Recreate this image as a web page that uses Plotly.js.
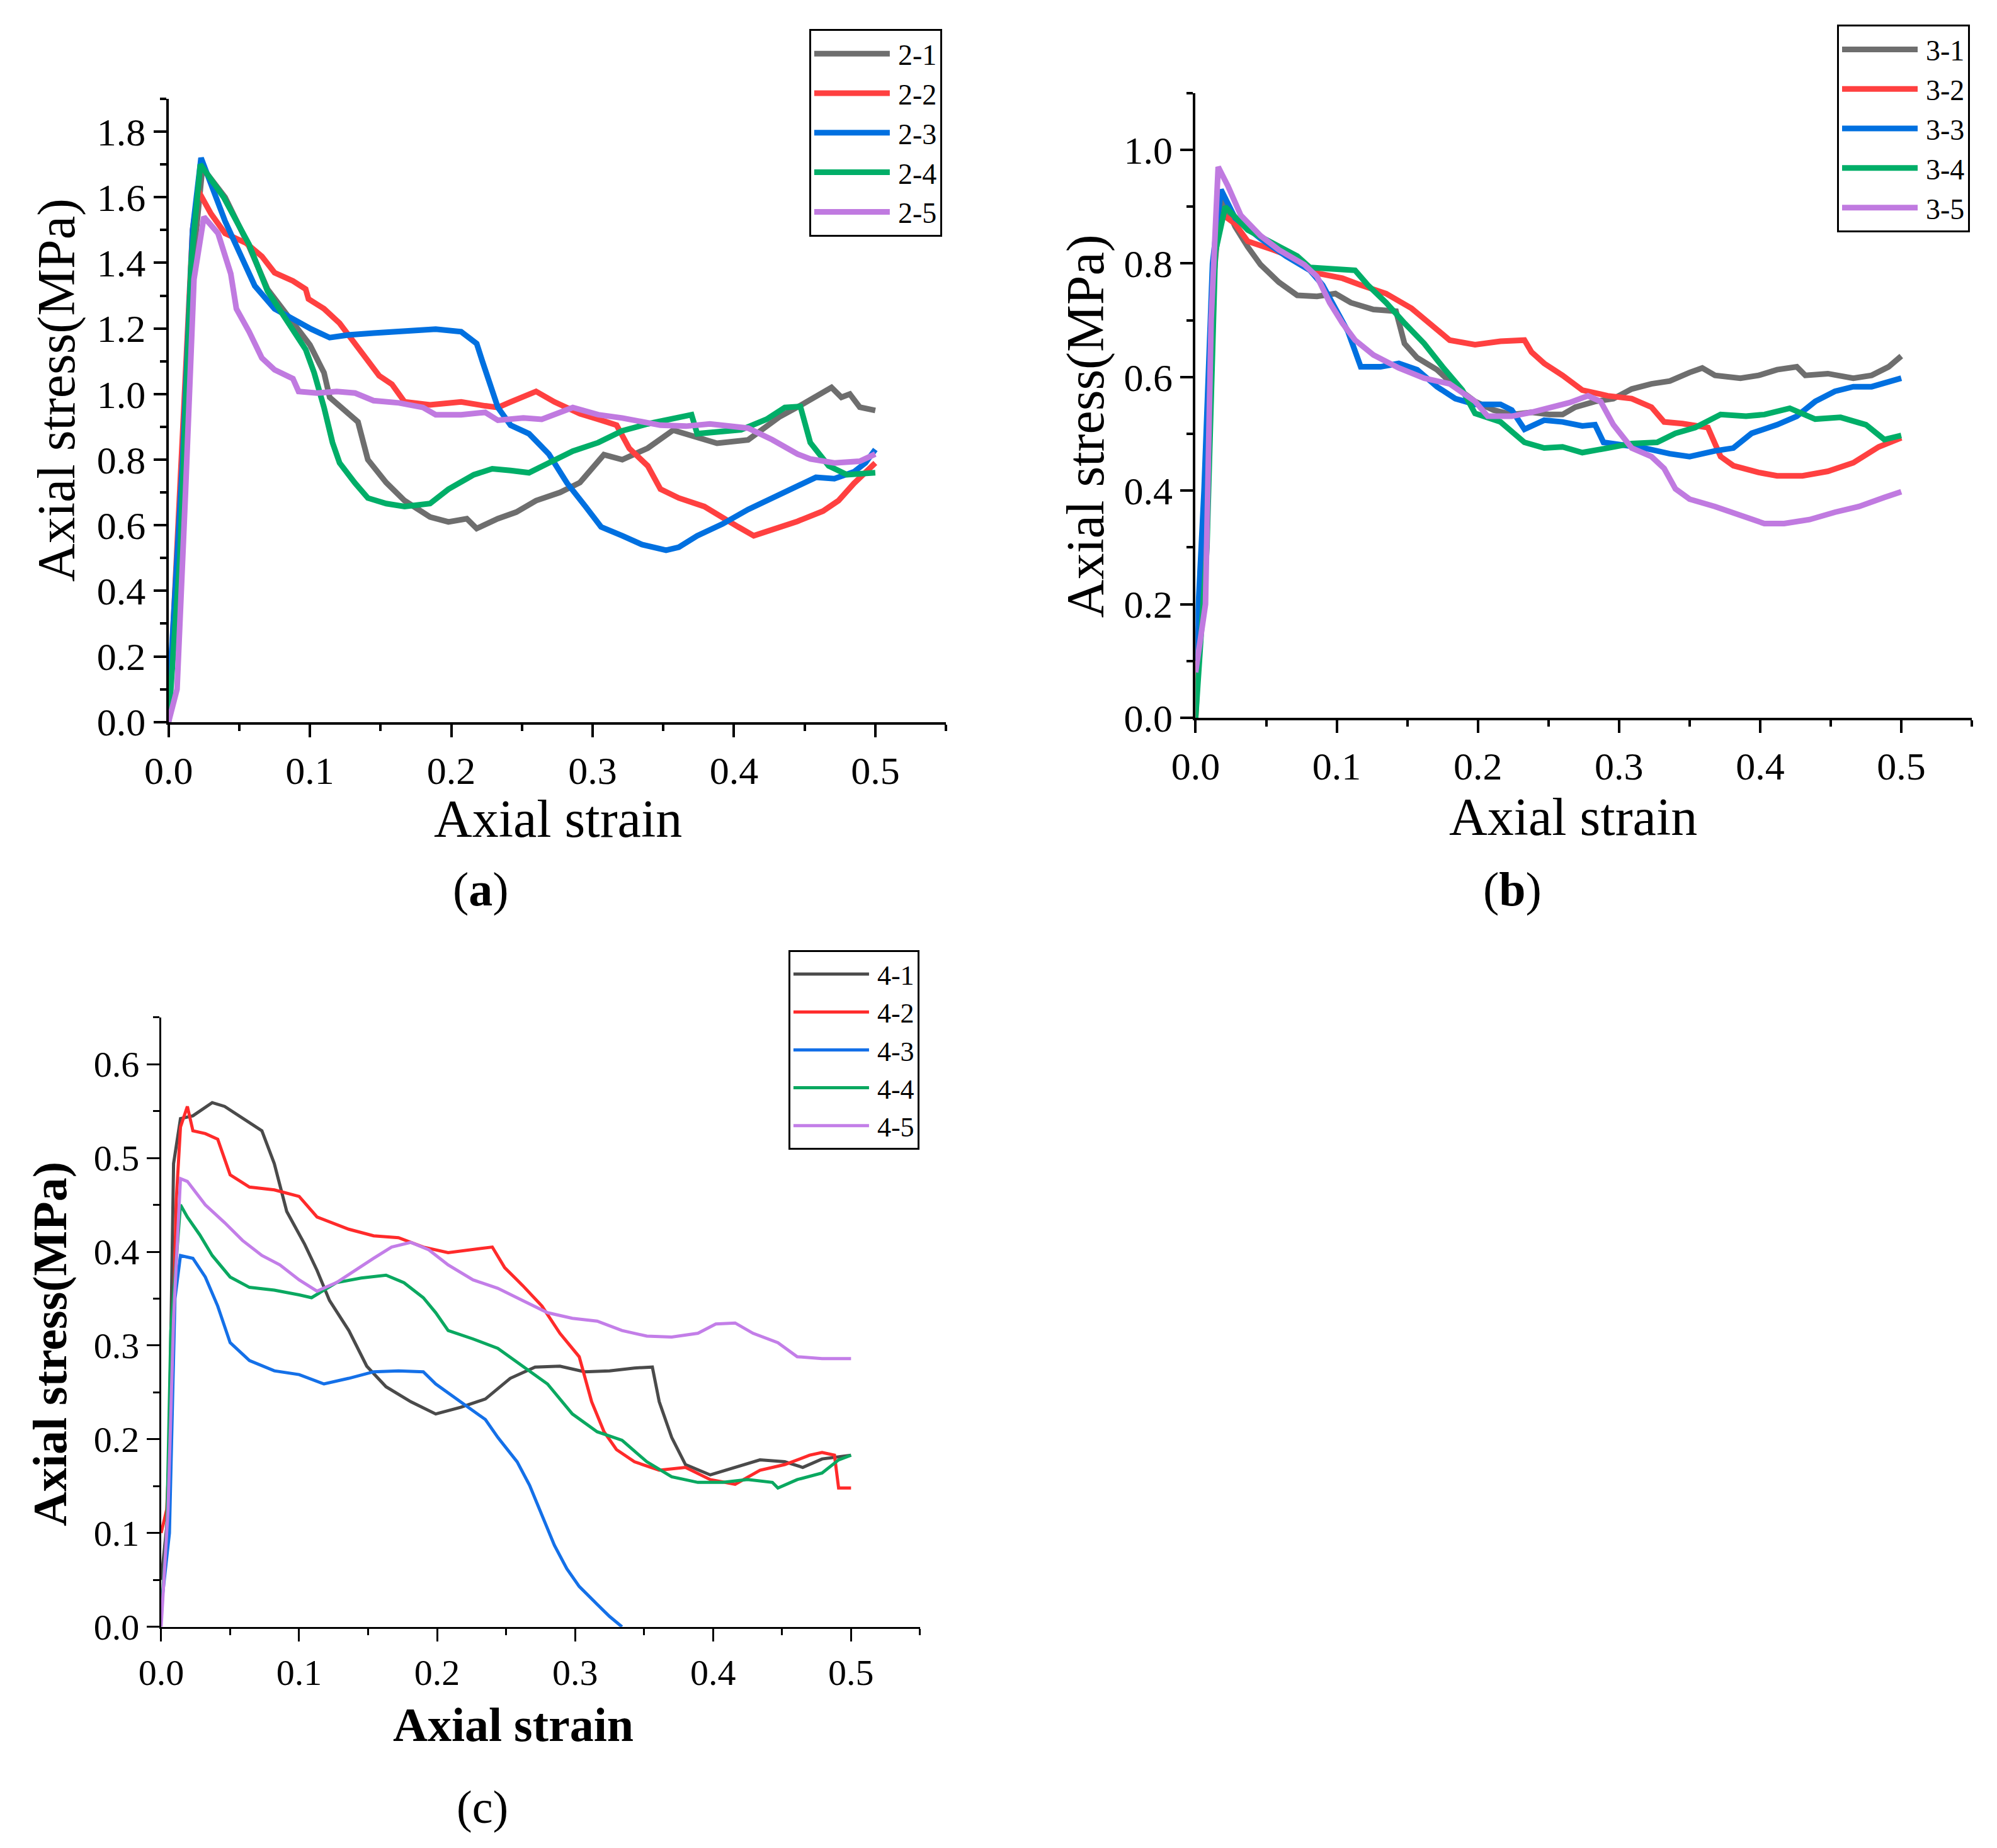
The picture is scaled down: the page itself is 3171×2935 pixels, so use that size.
<!DOCTYPE html>
<html>
<head>
<meta charset="utf-8">
<script src="https://cdn.plot.ly/plotly-3.0.1.min.js"></script>
<style>
  html, body { margin: 0; padding: 0; background: #fff; }
  #gd { width: 3171px; height: 2935px; }
</style>
</head>
<body>
<div id="gd"></div>
<script>
// ---- panel (a): specimens 2-x ----
const names2 = ['2-1', '2-2', '2-3', '2-4', '2-5'];
const x21 = [0, 0.008, 0.015, 0.024, 0.04, 0.057, 0.07, 0.088, 0.1, 0.11, 0.114, 0.134, 0.141, 0.154, 0.167, 0.185, 0.198, 0.211, 0.218, 0.233, 0.246, 0.26, 0.277, 0.291, 0.308, 0.321, 0.339, 0.357, 0.374, 0.388, 0.41, 0.432, 0.449, 0.469, 0.476, 0.482, 0.489, 0.5];
const y21 = [0, 0.6, 1.3, 1.69, 1.6, 1.45, 1.32, 1.22, 1.15, 1.065, 0.99, 0.915, 0.8, 0.73, 0.675, 0.625, 0.61, 0.62, 0.59, 0.62, 0.64, 0.675, 0.7, 0.73, 0.815, 0.8, 0.835, 0.89, 0.87, 0.85, 0.86, 0.93, 0.97, 1.02, 0.99, 1.0, 0.96, 0.95];
const x22 = [0, 0.01, 0.017, 0.021, 0.03, 0.04, 0.055, 0.066, 0.075, 0.088, 0.097, 0.099, 0.11, 0.121, 0.132, 0.141, 0.149, 0.158, 0.167, 0.185, 0.207, 0.224, 0.233, 0.242, 0.26, 0.273, 0.291, 0.304, 0.317, 0.326, 0.339, 0.348, 0.361, 0.379, 0.392, 0.403, 0.414, 0.427, 0.445, 0.463, 0.474, 0.485, 0.5];
const y22 = [0, 0.9, 1.5, 1.62, 1.55, 1.49, 1.46, 1.42, 1.37, 1.345, 1.32, 1.29, 1.26, 1.216, 1.154, 1.1, 1.056, 1.03, 0.976, 0.967, 0.976, 0.964, 0.959, 0.976, 1.008, 0.976, 0.94, 0.923, 0.905, 0.834, 0.781, 0.71, 0.683, 0.657, 0.621, 0.595, 0.568, 0.586, 0.612, 0.643, 0.675, 0.728, 0.79];
const x23 = [0, 0.01, 0.017, 0.023, 0.04, 0.052, 0.061, 0.075, 0.088, 0.101, 0.114, 0.127, 0.145, 0.172, 0.189, 0.207, 0.218, 0.222, 0.227, 0.233, 0.242, 0.255, 0.269, 0.282, 0.295, 0.306, 0.321, 0.335, 0.352, 0.361, 0.374, 0.392, 0.41, 0.427, 0.445, 0.458, 0.471, 0.485, 0.493, 0.5];
const y23 = [0.05, 0.8, 1.5, 1.72, 1.527, 1.42, 1.33, 1.26, 1.228, 1.198, 1.172, 1.18, 1.186, 1.193, 1.198, 1.19, 1.154, 1.1, 1.03, 0.959, 0.905, 0.879, 0.817, 0.728, 0.657, 0.595, 0.568, 0.541, 0.524, 0.533, 0.568, 0.604, 0.648, 0.683, 0.719, 0.746, 0.742, 0.763, 0.79, 0.831];
const x24 = [0, 0.008, 0.016, 0.0225, 0.039, 0.057, 0.07, 0.088, 0.097, 0.103, 0.11, 0.116, 0.121, 0.132, 0.141, 0.154, 0.167, 0.185, 0.198, 0.216, 0.229, 0.242, 0.255, 0.269, 0.286, 0.304, 0.321, 0.339, 0.357, 0.37, 0.374, 0.388, 0.405, 0.423, 0.436, 0.447, 0.454, 0.467, 0.48, 0.5];
const y24 = [0, 0.5, 1.4, 1.7, 1.6, 1.456, 1.314, 1.198, 1.136, 1.065, 0.959, 0.852, 0.79, 0.728, 0.683, 0.666, 0.657, 0.666, 0.71, 0.754, 0.772, 0.767, 0.76, 0.79, 0.826, 0.852, 0.888, 0.909, 0.927, 0.937, 0.879, 0.884, 0.891, 0.923, 0.959, 0.962, 0.852, 0.781, 0.754, 0.76];
const x25 = [0, 0.006, 0.012, 0.018, 0.025, 0.035, 0.044, 0.048, 0.057, 0.066, 0.075, 0.088, 0.092, 0.105, 0.119, 0.132, 0.145, 0.163, 0.18, 0.189, 0.207, 0.224, 0.233, 0.251, 0.264, 0.286, 0.304, 0.321, 0.348, 0.366, 0.383, 0.41, 0.427, 0.445, 0.454, 0.471, 0.489, 0.5];
const y25 = [0, 0.1, 0.7, 1.35, 1.54, 1.49, 1.367, 1.26, 1.19, 1.11, 1.074, 1.047, 1.008, 1.003, 1.008, 1.003, 0.98, 0.973, 0.959, 0.937, 0.937, 0.944, 0.92, 0.927, 0.923, 0.959, 0.937, 0.927, 0.905, 0.902, 0.909, 0.896, 0.861, 0.817, 0.802, 0.79, 0.795, 0.817];

// ---- panel (b): specimens 3-x ----
const names3 = ['3-1', '3-2', '3-3', '3-4', '3-5'];
const x31 = [0, 0.007, 0.012, 0.018, 0.028, 0.037, 0.046, 0.059, 0.072, 0.086, 0.099, 0.11, 0.126, 0.142, 0.148, 0.157, 0.171, 0.184, 0.198, 0.211, 0.224, 0.238, 0.251, 0.26, 0.269, 0.283, 0.296, 0.309, 0.323, 0.336, 0.35, 0.359, 0.368, 0.386, 0.399, 0.412, 0.426, 0.432, 0.448, 0.466, 0.479, 0.491, 0.5];
const y31 = [0.1, 0.3, 0.75, 0.92, 0.865, 0.829, 0.798, 0.767, 0.744, 0.742, 0.747, 0.731, 0.719, 0.716, 0.659, 0.634, 0.613, 0.583, 0.557, 0.542, 0.534, 0.538, 0.534, 0.534, 0.547, 0.557, 0.562, 0.579, 0.588, 0.593, 0.608, 0.616, 0.603, 0.598, 0.603, 0.613, 0.618, 0.603, 0.606, 0.598, 0.603, 0.618, 0.637];
const x32 = [0, 0.008, 0.013, 0.017, 0.028, 0.037, 0.055, 0.072, 0.086, 0.104, 0.117, 0.135, 0.153, 0.166, 0.18, 0.198, 0.216, 0.233, 0.238, 0.247, 0.26, 0.274, 0.292, 0.309, 0.323, 0.332, 0.345, 0.363, 0.372, 0.381, 0.399, 0.412, 0.43, 0.448, 0.466, 0.484, 0.493, 0.5];
const y32 = [0, 0.4, 0.8, 0.89, 0.87, 0.839, 0.824, 0.808, 0.783, 0.774, 0.762, 0.747, 0.721, 0.695, 0.665, 0.657, 0.663, 0.665, 0.644, 0.624, 0.603, 0.577, 0.567, 0.562, 0.547, 0.521, 0.518, 0.511, 0.46, 0.444, 0.432, 0.426, 0.426, 0.434, 0.449, 0.477, 0.485, 0.493];
const x33 = [0, 0.006, 0.012, 0.018, 0.028, 0.046, 0.064, 0.081, 0.09, 0.099, 0.108, 0.117, 0.131, 0.144, 0.157, 0.171, 0.184, 0.198, 0.216, 0.224, 0.233, 0.247, 0.26, 0.274, 0.283, 0.289, 0.305, 0.318, 0.336, 0.35, 0.368, 0.381, 0.394, 0.412, 0.426, 0.439, 0.453, 0.466, 0.479, 0.491, 0.5];
const y33 = [0.1, 0.4, 0.8, 0.93, 0.88, 0.844, 0.813, 0.788, 0.762, 0.721, 0.68, 0.618, 0.618, 0.624, 0.613, 0.583, 0.562, 0.552, 0.552, 0.542, 0.508, 0.524, 0.521, 0.514, 0.516, 0.485, 0.48, 0.475, 0.465, 0.46, 0.47, 0.475, 0.501, 0.516, 0.531, 0.557, 0.575, 0.583, 0.583, 0.593, 0.598];
const x34 = [0, 0.008, 0.014, 0.018, 0.021, 0.037, 0.055, 0.072, 0.081, 0.099, 0.113, 0.122, 0.135, 0.148, 0.162, 0.175, 0.189, 0.198, 0.216, 0.233, 0.247, 0.26, 0.274, 0.292, 0.309, 0.327, 0.34, 0.354, 0.372, 0.39, 0.403, 0.421, 0.439, 0.457, 0.475, 0.488, 0.5];
const y34 = [0, 0.3, 0.82, 0.86, 0.9, 0.859, 0.834, 0.813, 0.793, 0.79, 0.788, 0.762, 0.731, 0.695, 0.659, 0.618, 0.577, 0.536, 0.521, 0.485, 0.475, 0.477, 0.467, 0.475, 0.483, 0.485, 0.501, 0.511, 0.534, 0.531, 0.534, 0.545, 0.526, 0.529, 0.516, 0.49, 0.497];
const x35 = [0, 0.007, 0.011, 0.016, 0.023, 0.032, 0.046, 0.059, 0.077, 0.086, 0.095, 0.104, 0.113, 0.126, 0.144, 0.162, 0.18, 0.198, 0.207, 0.224, 0.238, 0.251, 0.265, 0.278, 0.287, 0.296, 0.309, 0.323, 0.332, 0.34, 0.35, 0.368, 0.386, 0.403, 0.417, 0.435, 0.453, 0.47, 0.488, 0.5];
const y35 = [0.08, 0.2, 0.7, 0.97, 0.936, 0.885, 0.849, 0.824, 0.798, 0.777, 0.731, 0.695, 0.665, 0.639, 0.616, 0.598, 0.588, 0.557, 0.531, 0.531, 0.538, 0.547, 0.555, 0.567, 0.557, 0.516, 0.475, 0.46, 0.439, 0.403, 0.385, 0.372, 0.357, 0.342, 0.342, 0.349, 0.362, 0.372, 0.388, 0.398];

// ---- panel (c): specimens 4-x ----
const names4 = ['4-1', '4-2', '4-3', '4-4', '4-5'];
const x41 = [0, 0.005, 0.009, 0.014, 0.023, 0.037, 0.046, 0.059, 0.073, 0.082, 0.091, 0.104, 0.113, 0.122, 0.136, 0.149, 0.163, 0.181, 0.199, 0.217, 0.235, 0.253, 0.271, 0.289, 0.307, 0.325, 0.343, 0.356, 0.361, 0.37, 0.38, 0.398, 0.416, 0.434, 0.452, 0.465, 0.479, 0.5];
const y41 = [0.05, 0.12, 0.494, 0.542, 0.545, 0.559, 0.555, 0.542, 0.529, 0.494, 0.443, 0.408, 0.38, 0.348, 0.316, 0.278, 0.256, 0.24, 0.227, 0.234, 0.243, 0.265, 0.277, 0.278, 0.272, 0.273, 0.276, 0.277, 0.24, 0.202, 0.173, 0.162, 0.17, 0.178, 0.176, 0.17, 0.179, 0.183];
const x42 = [0, 0.004, 0.007, 0.011, 0.014, 0.019, 0.023, 0.032, 0.041, 0.05, 0.064, 0.082, 0.1, 0.113, 0.136, 0.154, 0.172, 0.19, 0.208, 0.226, 0.24, 0.249, 0.262, 0.276, 0.289, 0.303, 0.312, 0.321, 0.33, 0.343, 0.361, 0.38, 0.398, 0.416, 0.434, 0.452, 0.47, 0.479, 0.488, 0.491, 0.5];
const y42 = [0.1, 0.125, 0.22, 0.456, 0.533, 0.555, 0.529, 0.526, 0.52, 0.482, 0.469, 0.466, 0.459, 0.437, 0.424, 0.417, 0.415, 0.405, 0.399, 0.402, 0.405, 0.383, 0.364, 0.342, 0.313, 0.288, 0.24, 0.208, 0.189, 0.176, 0.167, 0.17, 0.157, 0.152, 0.167, 0.173, 0.183, 0.186, 0.183, 0.148, 0.148];
const x43 = [0, 0.006, 0.01, 0.014, 0.023, 0.032, 0.041, 0.05, 0.064, 0.082, 0.1, 0.118, 0.136, 0.154, 0.172, 0.19, 0.199, 0.217, 0.235, 0.244, 0.258, 0.267, 0.276, 0.285, 0.294, 0.303, 0.316, 0.325, 0.334];
const y43 = [0.02, 0.1, 0.35, 0.396, 0.393, 0.373, 0.342, 0.303, 0.284, 0.273, 0.269, 0.259, 0.265, 0.272, 0.273, 0.272, 0.259, 0.24, 0.221, 0.202, 0.176, 0.151, 0.119, 0.087, 0.062, 0.043, 0.024, 0.011, 0];
const x44 = [0, 0.004, 0.007, 0.014, 0.019, 0.028, 0.037, 0.05, 0.064, 0.082, 0.1, 0.109, 0.127, 0.145, 0.163, 0.176, 0.19, 0.199, 0.208, 0.226, 0.244, 0.262, 0.28, 0.298, 0.316, 0.334, 0.352, 0.37, 0.389, 0.407, 0.425, 0.443, 0.447, 0.461, 0.479, 0.491, 0.5];
const y44 = [0.01, 0.1, 0.316, 0.45, 0.437, 0.418, 0.396, 0.373, 0.362, 0.359, 0.354, 0.351, 0.367, 0.372, 0.375, 0.367, 0.351, 0.335, 0.316, 0.307, 0.297, 0.278, 0.259, 0.227, 0.208, 0.199, 0.176, 0.16, 0.154, 0.154, 0.157, 0.154, 0.148, 0.157, 0.164, 0.178, 0.183];
const x45 = [0, 0.005, 0.009, 0.014, 0.019, 0.032, 0.046, 0.059, 0.073, 0.086, 0.1, 0.113, 0.127, 0.14, 0.154, 0.167, 0.181, 0.194, 0.208, 0.226, 0.244, 0.262, 0.28, 0.298, 0.316, 0.334, 0.352, 0.37, 0.389, 0.402, 0.416, 0.429, 0.447, 0.461, 0.479, 0.5];
const y45 = [0, 0.125, 0.329, 0.478, 0.475, 0.45, 0.431, 0.412, 0.396, 0.386, 0.37, 0.358, 0.367, 0.38, 0.393, 0.405, 0.41, 0.402, 0.386, 0.37, 0.361, 0.348, 0.335, 0.329, 0.326, 0.316, 0.31, 0.309, 0.313, 0.323, 0.324, 0.313, 0.303, 0.288, 0.286, 0.286];

const colorsAB = ['#6e6e6e', '#ff4040', '#0070e0', '#00ae68', '#c07ae0'];
const colorsC = ['#4a4a4a', '#ff2a2a', '#1470e8', '#0aa860', '#c37ee8'];
const serif = 'Liberation Serif, Times New Roman, serif';

function makeTraces(xs, ys, names, colors, width, xa, ya, leg) {
    return xs.map(function (x, i) {
        return {
            x: x,
            y: ys[i],
            name: names[i],
            type: 'scatter',
            mode: 'lines',
            line: {color: colors[i], width: width},
            xaxis: xa,
            yaxis: ya,
            legend: leg
        };
    });
}

let data = [].concat(
    makeTraces([x21, x22, x23, x24, x25], [y21, y22, y23, y24, y25], names2, colorsAB, 9, 'x', 'y', 'legend'),
    makeTraces([x31, x32, x33, x34, x35], [y31, y32, y33, y34, y35], names3, colorsAB, 9, 'x2', 'y2', 'legend2'),
    makeTraces([x41, x42, x43, x44, x45], [y41, y42, y43, y44, y45], names4, colorsC, 5, 'x3', 'y3', 'legend3')
);

function axis(domain, anchor, range, dtick, minor, lw, tickSize) {
    return {
        domain: domain,
        anchor: anchor,
        range: range,
        tick0: 0,
        dtick: dtick,
        tickformat: '.1f',
        ticks: 'outside',
        ticklen: 20,
        tickwidth: lw,
        tickcolor: '#000',
        showline: true,
        linewidth: lw,
        linecolor: '#000',
        showgrid: false,
        zeroline: false,
        minor: {dtick: minor, ticks: 'outside', ticklen: 10, tickwidth: lw, tickcolor: '#000', showgrid: false},
        tickfont: {family: serif, size: tickSize, color: '#000'}
    };
}

function legendBox(x, y, size) {
    return {
        x: x, y: y, xanchor: 'left', yanchor: 'top',
        bgcolor: '#fff', bordercolor: '#000', borderwidth: 3,
        font: {family: serif, size: size, color: '#000'},
        itemwidth: 128, tracegroupgap: 0
    };
}

// titles and panel labels placed as paper annotations, as in the figure
function label(text, x, y, size, angle) {
    return {
        text: text, x: x, y: y, xref: 'paper', yref: 'paper',
        xanchor: 'center', yanchor: 'middle', showarrow: false,
        textangle: angle || 0,
        font: {family: serif, size: size, color: '#000'}
    };
}

let layout = {
    width: 3171,
    height: 2935,
    margin: {l: 0, r: 0, t: 0, b: 0},
    paper_bgcolor: '#fff',
    plot_bgcolor: '#fff',
    showlegend: true,
    xaxis: axis([0.0844, 0.4737], 'y', [0, 0.55], 0.1, 0.05, 4, 62),
    yaxis: axis([0.6093, 0.9465], 'x', [0, 1.9], 0.2, 0.1, 4, 62),
    xaxis2: axis([0.5987, 0.9874], 'y2', [0, 0.55], 0.1, 0.05, 4, 62),
    yaxis2: axis([0.6116, 0.9496], 'x2', [0, 1.1], 0.2, 0.1, 4, 62),
    xaxis3: axis([0.0807, 0.4607], 'y3', [0, 0.55], 0.1, 0.05, 3, 58),
    yaxis3: axis([0.1197, 0.4495], 'x3', [0, 0.65], 0.1, 0.05, 3, 58),
    legend: legendBox(0.4052, 0.9844, 46),
    legend2: legendBox(0.9199, 0.9867, 46),
    legend3: legendBox(0.3948, 0.4859, 44),
    annotations: [
        label('Axial strain', 0.2794, 0.5568, 84),
        label('Axial stress(MPa)', 0.0284, 0.7888, 84, -90),
        label('Axial strain', 0.7877, 0.5578, 84),
        label('Axial stress(MPa)', 0.5437, 0.7693, 84, -90),
        label('<b>Axial strain</b>', 0.257, 0.0668, 76),
        label('<b>Axial stress(MPa)</b>', 0.0249, 0.2729, 76, -90),
        label('(<b>a</b>)', 0.2409, 0.5189, 76),
        label('(<b>b</b>)', 0.7572, 0.5189, 76),
        label('(c)', 0.2416, 0.0221, 74)
    ]
};

let config = {displayModeBar: false};

Plotly.newPlot('gd', data, layout, config).then(function () {
    // Origin-style legends use long line samples
    document.querySelectorAll('.legendlines path').forEach(function (p) {
        p.setAttribute('d', 'M5,0h120');
    });
});
</script>
</body>
</html>
